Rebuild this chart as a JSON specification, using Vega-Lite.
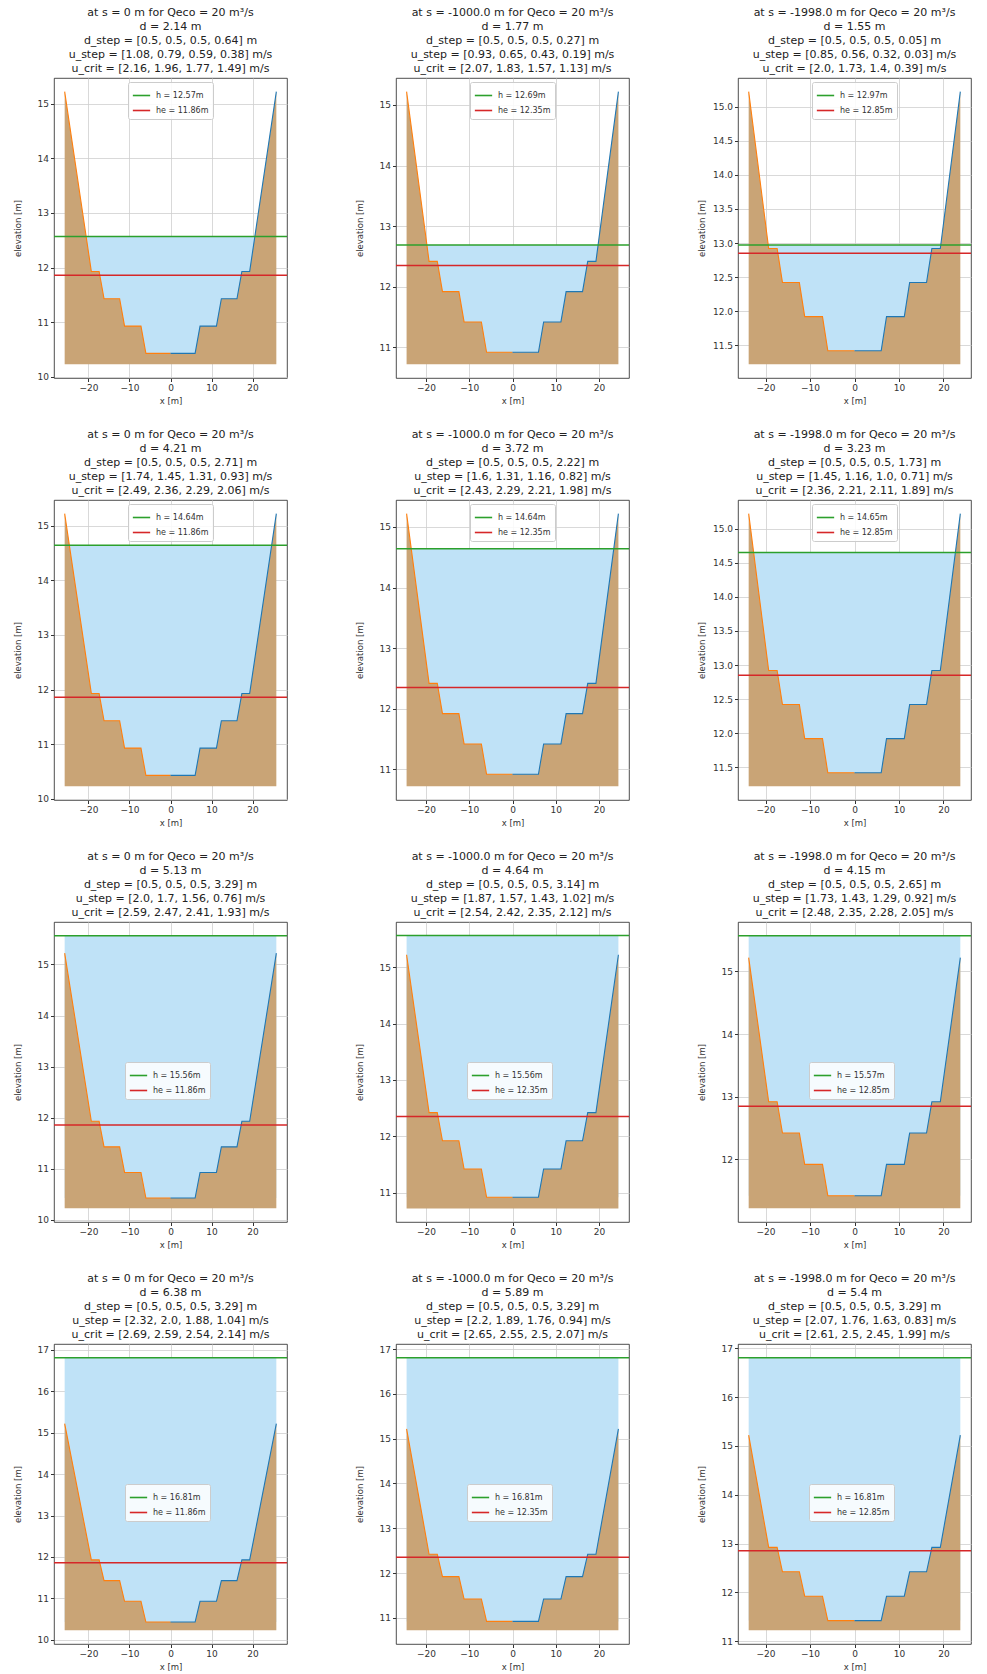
{
"$schema":"https://vega.github.io/schema/vega-lite/v6.json",
"padding":{"left":12,"top":6,"right":4,"bottom":2},
"background":"white",
"columns":3,
"spacing":{"row":22,"column":65},
"resolve":{"scale":{"x":"independent","y":"independent","color":"independent"},"legend":{"color":"independent"}},
"config":{
 "font":"DejaVu Sans",
 "view":{"stroke":"#222222","strokeWidth":0.8},
 "axis":{"grid":true,"gridColor":"#cfcfcf","gridWidth":0.8,"domain":false,"tickColor":"#333333","tickSize":3.5,"labelFontSize":9,"labelColor":"#333333","titleFontSize":8.5,"titleFontWeight":"normal","titleColor":"#333333","zindex":1,"labelFont":"DejaVu Sans","titleFont":"DejaVu Sans"},
 "axisY":{"minExtent":28,"maxExtent":28},
 "title":{"fontSize":11,"font":"DejaVu Sans","fontWeight":"normal","lineHeight":14,"offset":4,"color":"#222222","anchor":"middle"},
 "legend":{"symbolType":"stroke","symbolSize":300,"symbolStrokeWidth":1.6,"labelFontSize":8,"labelFont":"DejaVu Sans","padding":4,"fillColor":"rgba(255,255,255,0.85)","strokeColor":"#cccccc","cornerRadius":2,"rowPadding":1,"labelOffset":5,"labelColor":"#333333"}
},
"datasets":{
 "terrain":[
  {"c":1,"x":-25.8,"y":15.22,"base":10.23},{"c":1,"x":-19.3,"y":11.93,"base":10.23},{"c":1,"x":-17.4,"y":11.93,"base":10.23},{"c":1,"x":-16.2,"y":11.43,"base":10.23},{"c":1,"x":-12.4,"y":11.43,"base":10.23},{"c":1,"x":-11.2,"y":10.93,"base":10.23},{"c":1,"x":-7.2,"y":10.93,"base":10.23},{"c":1,"x":-6,"y":10.43,"base":10.23},{"c":1,"x":0,"y":10.43,"base":10.23},{"c":1,"x":6,"y":10.43,"base":10.23},{"c":1,"x":7.2,"y":10.93,"base":10.23},{"c":1,"x":11.2,"y":10.93,"base":10.23},{"c":1,"x":12.4,"y":11.43,"base":10.23},{"c":1,"x":16.2,"y":11.43,"base":10.23},{"c":1,"x":17.4,"y":11.93,"base":10.23},{"c":1,"x":19.3,"y":11.93,"base":10.23},{"c":1,"x":25.8,"y":15.22,"base":10.23},
  {"c":2,"x":-24.5,"y":15.22,"base":10.72},{"c":2,"x":-19.3,"y":12.42,"base":10.72},{"c":2,"x":-17.4,"y":12.42,"base":10.72},{"c":2,"x":-16.2,"y":11.92,"base":10.72},{"c":2,"x":-12.4,"y":11.92,"base":10.72},{"c":2,"x":-11.2,"y":11.42,"base":10.72},{"c":2,"x":-7.2,"y":11.42,"base":10.72},{"c":2,"x":-6,"y":10.92,"base":10.72},{"c":2,"x":0,"y":10.92,"base":10.72},{"c":2,"x":6,"y":10.92,"base":10.72},{"c":2,"x":7.2,"y":11.42,"base":10.72},{"c":2,"x":11.2,"y":11.42,"base":10.72},{"c":2,"x":12.4,"y":11.92,"base":10.72},{"c":2,"x":16.2,"y":11.92,"base":10.72},{"c":2,"x":17.4,"y":12.42,"base":10.72},{"c":2,"x":19.3,"y":12.42,"base":10.72},{"c":2,"x":24.5,"y":15.22,"base":10.72},
  {"c":3,"x":-23.8,"y":15.22,"base":11.22},{"c":3,"x":-19.3,"y":12.92,"base":11.22},{"c":3,"x":-17.4,"y":12.92,"base":11.22},{"c":3,"x":-16.2,"y":12.42,"base":11.22},{"c":3,"x":-12.4,"y":12.42,"base":11.22},{"c":3,"x":-11.2,"y":11.92,"base":11.22},{"c":3,"x":-7.2,"y":11.92,"base":11.22},{"c":3,"x":-6,"y":11.42,"base":11.22},{"c":3,"x":0,"y":11.42,"base":11.22},{"c":3,"x":6,"y":11.42,"base":11.22},{"c":3,"x":7.2,"y":11.92,"base":11.22},{"c":3,"x":11.2,"y":11.92,"base":11.22},{"c":3,"x":12.4,"y":12.42,"base":11.22},{"c":3,"x":16.2,"y":12.42,"base":11.22},{"c":3,"x":17.4,"y":12.92,"base":11.22},{"c":3,"x":19.3,"y":12.92,"base":11.22},{"c":3,"x":23.8,"y":15.22,"base":11.22}
 ],
 "water":[
  {"p":1,"x":-20.56,"x2":20.56,"y":10.43,"y2":12.57},
  {"p":2,"x":-19.8,"x2":19.8,"y":10.92,"y2":12.69},
  {"p":3,"x":-19.4,"x2":19.4,"y":11.42,"y2":12.97},
  {"p":4,"x":-24.65,"x2":24.65,"y":10.43,"y2":14.64},
  {"p":5,"x":-23.42,"x2":23.42,"y":10.92,"y2":14.64},
  {"p":6,"x":-22.68,"x2":22.68,"y":11.42,"y2":14.65},
  {"p":7,"x":-25.8,"x2":25.8,"y":10.43,"y2":15.56},
  {"p":8,"x":-24.5,"x2":24.5,"y":10.92,"y2":15.56},
  {"p":9,"x":-23.8,"x2":23.8,"y":11.42,"y2":15.57},
  {"p":10,"x":-25.8,"x2":25.8,"y":10.43,"y2":16.81},
  {"p":11,"x":-24.5,"x2":24.5,"y":10.92,"y2":16.81},
  {"p":12,"x":-23.8,"x2":23.8,"y":11.42,"y2":16.81}
 ],
 "lines":[
  {"p":1,"lab":"h = 12.57m","y":12.57},{"p":1,"lab":"he = 11.86m","y":11.86},
  {"p":2,"lab":"h = 12.69m","y":12.69},{"p":2,"lab":"he = 12.35m","y":12.35},
  {"p":3,"lab":"h = 12.97m","y":12.97},{"p":3,"lab":"he = 12.85m","y":12.85},
  {"p":4,"lab":"h = 14.64m","y":14.64},{"p":4,"lab":"he = 11.86m","y":11.86},
  {"p":5,"lab":"h = 14.64m","y":14.64},{"p":5,"lab":"he = 12.35m","y":12.35},
  {"p":6,"lab":"h = 14.65m","y":14.65},{"p":6,"lab":"he = 12.85m","y":12.85},
  {"p":7,"lab":"h = 15.56m","y":15.56},{"p":7,"lab":"he = 11.86m","y":11.86},
  {"p":8,"lab":"h = 15.56m","y":15.56},{"p":8,"lab":"he = 12.35m","y":12.35},
  {"p":9,"lab":"h = 15.57m","y":15.57},{"p":9,"lab":"he = 12.85m","y":12.85},
  {"p":10,"lab":"h = 16.81m","y":16.81},{"p":10,"lab":"he = 11.86m","y":11.86},
  {"p":11,"lab":"h = 16.81m","y":16.81},{"p":11,"lab":"he = 12.35m","y":12.35},
  {"p":12,"lab":"h = 16.81m","y":16.81},{"p":12,"lab":"he = 12.85m","y":12.85}
 ]
},
"concat":[
{"width":233,"height":300,"title":{"text":["at s = 0 m for Qeco = 20 m³/s","d = 2.14 m","d_step = [0.5, 0.5, 0.5, 0.64] m","u_step = [1.08, 0.79, 0.59, 0.38] m/s","u_crit = [2.16, 1.96, 1.77, 1.49] m/s"]},
 "layer":[
  {"data":{"name":"water"},"transform":[{"filter":"datum.p==1"}],"mark":{"type":"rect","color":"#bfe2f7"},"encoding":{"x":{"field":"x","type":"quantitative","scale":{"domain":[-28.4,28.4],"nice":false,"zero":false},"axis":{"title":"x [m]","values":[-20,-10,0,10,20],"format":"d"}},"x2":{"field":"x2"},"y":{"field":"y","type":"quantitative","scale":{"domain":[9.98,15.47],"nice":false,"zero":false},"axis":{"title":"elevation [m]","values":[10,11,12,13,14,15],"format":"d"}},"y2":{"field":"y2"}}},
  {"data":{"name":"terrain"},"transform":[{"filter":"datum.c==1"}],"mark":{"type":"area","color":"#c9a476"},"encoding":{"x":{"field":"x","type":"quantitative"},"y":{"field":"y","type":"quantitative"},"y2":{"field":"base"}}},
  {"data":{"name":"terrain"},"transform":[{"filter":"datum.c==1 && datum.x<=0"}],"mark":{"type":"line","color":"#ff7f0e","strokeWidth":1.1},"encoding":{"x":{"field":"x","type":"quantitative"},"y":{"field":"y","type":"quantitative"}}},
  {"data":{"name":"terrain"},"transform":[{"filter":"datum.c==1 && datum.x>=0"}],"mark":{"type":"line","color":"#1f77b4","strokeWidth":1.1},"encoding":{"x":{"field":"x","type":"quantitative"},"y":{"field":"y","type":"quantitative"}}},
  {"data":{"name":"lines"},"transform":[{"filter":"datum.p==1"}],"mark":{"type":"rule","strokeWidth":1.5},"encoding":{"y":{"field":"y","type":"quantitative"},"color":{"field":"lab","type":"nominal","scale":{"domain":["h = 12.57m","he = 11.86m"],"range":["#2ca02c","#d62728"]},"legend":{"title":null,"orient":"none","legendX":74,"legendY":4}}}}
 ]},
{"width":233,"height":300,"title":{"text":["at s = -1000.0 m for Qeco = 20 m³/s","d = 1.77 m","d_step = [0.5, 0.5, 0.5, 0.27] m","u_step = [0.93, 0.65, 0.43, 0.19] m/s","u_crit = [2.07, 1.83, 1.57, 1.13] m/s"]},
 "layer":[
  {"data":{"name":"water"},"transform":[{"filter":"datum.p==2"}],"mark":{"type":"rect","color":"#bfe2f7"},"encoding":{"x":{"field":"x","type":"quantitative","scale":{"domain":[-26.95,26.95],"nice":false,"zero":false},"axis":{"title":"x [m]","values":[-20,-10,0,10,20],"format":"d"}},"x2":{"field":"x2"},"y":{"field":"y","type":"quantitative","scale":{"domain":[10.495,15.445],"nice":false,"zero":false},"axis":{"title":"elevation [m]","values":[11,12,13,14,15],"format":"d"}},"y2":{"field":"y2"}}},
  {"data":{"name":"terrain"},"transform":[{"filter":"datum.c==2"}],"mark":{"type":"area","color":"#c9a476"},"encoding":{"x":{"field":"x","type":"quantitative"},"y":{"field":"y","type":"quantitative"},"y2":{"field":"base"}}},
  {"data":{"name":"terrain"},"transform":[{"filter":"datum.c==2 && datum.x<=0"}],"mark":{"type":"line","color":"#ff7f0e","strokeWidth":1.1},"encoding":{"x":{"field":"x","type":"quantitative"},"y":{"field":"y","type":"quantitative"}}},
  {"data":{"name":"terrain"},"transform":[{"filter":"datum.c==2 && datum.x>=0"}],"mark":{"type":"line","color":"#1f77b4","strokeWidth":1.1},"encoding":{"x":{"field":"x","type":"quantitative"},"y":{"field":"y","type":"quantitative"}}},
  {"data":{"name":"lines"},"transform":[{"filter":"datum.p==2"}],"mark":{"type":"rule","strokeWidth":1.5},"encoding":{"y":{"field":"y","type":"quantitative"},"color":{"field":"lab","type":"nominal","scale":{"domain":["h = 12.69m","he = 12.35m"],"range":["#2ca02c","#d62728"]},"legend":{"title":null,"orient":"none","legendX":74,"legendY":4}}}}
 ]},
{"width":233,"height":300,"title":{"text":["at s = -1998.0 m for Qeco = 20 m³/s","d = 1.55 m","d_step = [0.5, 0.5, 0.5, 0.05] m","u_step = [0.85, 0.56, 0.32, 0.03] m/s","u_crit = [2.0, 1.73, 1.4, 0.39] m/s"]},
 "layer":[
  {"data":{"name":"water"},"transform":[{"filter":"datum.p==3"}],"mark":{"type":"rect","color":"#bfe2f7"},"encoding":{"x":{"field":"x","type":"quantitative","scale":{"domain":[-26.2,26.2],"nice":false,"zero":false},"axis":{"title":"x [m]","values":[-20,-10,0,10,20],"format":"d"}},"x2":{"field":"x2"},"y":{"field":"y","type":"quantitative","scale":{"domain":[11.02,15.42],"nice":false,"zero":false},"axis":{"title":"elevation [m]","values":[11.5,12,12.5,13,13.5,14,14.5,15],"format":".1f"}},"y2":{"field":"y2"}}},
  {"data":{"name":"terrain"},"transform":[{"filter":"datum.c==3"}],"mark":{"type":"area","color":"#c9a476"},"encoding":{"x":{"field":"x","type":"quantitative"},"y":{"field":"y","type":"quantitative"},"y2":{"field":"base"}}},
  {"data":{"name":"terrain"},"transform":[{"filter":"datum.c==3 && datum.x<=0"}],"mark":{"type":"line","color":"#ff7f0e","strokeWidth":1.1},"encoding":{"x":{"field":"x","type":"quantitative"},"y":{"field":"y","type":"quantitative"}}},
  {"data":{"name":"terrain"},"transform":[{"filter":"datum.c==3 && datum.x>=0"}],"mark":{"type":"line","color":"#1f77b4","strokeWidth":1.1},"encoding":{"x":{"field":"x","type":"quantitative"},"y":{"field":"y","type":"quantitative"}}},
  {"data":{"name":"lines"},"transform":[{"filter":"datum.p==3"}],"mark":{"type":"rule","strokeWidth":1.5},"encoding":{"y":{"field":"y","type":"quantitative"},"color":{"field":"lab","type":"nominal","scale":{"domain":["h = 12.97m","he = 12.85m"],"range":["#2ca02c","#d62728"]},"legend":{"title":null,"orient":"none","legendX":74,"legendY":4}}}}
 ]},
{"width":233,"height":300,"title":{"text":["at s = 0 m for Qeco = 20 m³/s","d = 4.21 m","d_step = [0.5, 0.5, 0.5, 2.71] m","u_step = [1.74, 1.45, 1.31, 0.93] m/s","u_crit = [2.49, 2.36, 2.29, 2.06] m/s"]},
 "layer":[
  {"data":{"name":"water"},"transform":[{"filter":"datum.p==4"}],"mark":{"type":"rect","color":"#bfe2f7"},"encoding":{"x":{"field":"x","type":"quantitative","scale":{"domain":[-28.4,28.4],"nice":false,"zero":false},"axis":{"title":"x [m]","values":[-20,-10,0,10,20],"format":"d"}},"x2":{"field":"x2"},"y":{"field":"y","type":"quantitative","scale":{"domain":[9.98,15.47],"nice":false,"zero":false},"axis":{"title":"elevation [m]","values":[10,11,12,13,14,15],"format":"d"}},"y2":{"field":"y2"}}},
  {"data":{"name":"terrain"},"transform":[{"filter":"datum.c==1"}],"mark":{"type":"area","color":"#c9a476"},"encoding":{"x":{"field":"x","type":"quantitative"},"y":{"field":"y","type":"quantitative"},"y2":{"field":"base"}}},
  {"data":{"name":"terrain"},"transform":[{"filter":"datum.c==1 && datum.x<=0"}],"mark":{"type":"line","color":"#ff7f0e","strokeWidth":1.1},"encoding":{"x":{"field":"x","type":"quantitative"},"y":{"field":"y","type":"quantitative"}}},
  {"data":{"name":"terrain"},"transform":[{"filter":"datum.c==1 && datum.x>=0"}],"mark":{"type":"line","color":"#1f77b4","strokeWidth":1.1},"encoding":{"x":{"field":"x","type":"quantitative"},"y":{"field":"y","type":"quantitative"}}},
  {"data":{"name":"lines"},"transform":[{"filter":"datum.p==4"}],"mark":{"type":"rule","strokeWidth":1.5},"encoding":{"y":{"field":"y","type":"quantitative"},"color":{"field":"lab","type":"nominal","scale":{"domain":["h = 14.64m","he = 11.86m"],"range":["#2ca02c","#d62728"]},"legend":{"title":null,"orient":"none","legendX":74,"legendY":4}}}}
 ]},
{"width":233,"height":300,"title":{"text":["at s = -1000.0 m for Qeco = 20 m³/s","d = 3.72 m","d_step = [0.5, 0.5, 0.5, 2.22] m","u_step = [1.6, 1.31, 1.16, 0.82] m/s","u_crit = [2.43, 2.29, 2.21, 1.98] m/s"]},
 "layer":[
  {"data":{"name":"water"},"transform":[{"filter":"datum.p==5"}],"mark":{"type":"rect","color":"#bfe2f7"},"encoding":{"x":{"field":"x","type":"quantitative","scale":{"domain":[-26.95,26.95],"nice":false,"zero":false},"axis":{"title":"x [m]","values":[-20,-10,0,10,20],"format":"d"}},"x2":{"field":"x2"},"y":{"field":"y","type":"quantitative","scale":{"domain":[10.495,15.445],"nice":false,"zero":false},"axis":{"title":"elevation [m]","values":[11,12,13,14,15],"format":"d"}},"y2":{"field":"y2"}}},
  {"data":{"name":"terrain"},"transform":[{"filter":"datum.c==2"}],"mark":{"type":"area","color":"#c9a476"},"encoding":{"x":{"field":"x","type":"quantitative"},"y":{"field":"y","type":"quantitative"},"y2":{"field":"base"}}},
  {"data":{"name":"terrain"},"transform":[{"filter":"datum.c==2 && datum.x<=0"}],"mark":{"type":"line","color":"#ff7f0e","strokeWidth":1.1},"encoding":{"x":{"field":"x","type":"quantitative"},"y":{"field":"y","type":"quantitative"}}},
  {"data":{"name":"terrain"},"transform":[{"filter":"datum.c==2 && datum.x>=0"}],"mark":{"type":"line","color":"#1f77b4","strokeWidth":1.1},"encoding":{"x":{"field":"x","type":"quantitative"},"y":{"field":"y","type":"quantitative"}}},
  {"data":{"name":"lines"},"transform":[{"filter":"datum.p==5"}],"mark":{"type":"rule","strokeWidth":1.5},"encoding":{"y":{"field":"y","type":"quantitative"},"color":{"field":"lab","type":"nominal","scale":{"domain":["h = 14.64m","he = 12.35m"],"range":["#2ca02c","#d62728"]},"legend":{"title":null,"orient":"none","legendX":74,"legendY":4}}}}
 ]},
{"width":233,"height":300,"title":{"text":["at s = -1998.0 m for Qeco = 20 m³/s","d = 3.23 m","d_step = [0.5, 0.5, 0.5, 1.73] m","u_step = [1.45, 1.16, 1.0, 0.71] m/s","u_crit = [2.36, 2.21, 2.11, 1.89] m/s"]},
 "layer":[
  {"data":{"name":"water"},"transform":[{"filter":"datum.p==6"}],"mark":{"type":"rect","color":"#bfe2f7"},"encoding":{"x":{"field":"x","type":"quantitative","scale":{"domain":[-26.2,26.2],"nice":false,"zero":false},"axis":{"title":"x [m]","values":[-20,-10,0,10,20],"format":"d"}},"x2":{"field":"x2"},"y":{"field":"y","type":"quantitative","scale":{"domain":[11.02,15.42],"nice":false,"zero":false},"axis":{"title":"elevation [m]","values":[11.5,12,12.5,13,13.5,14,14.5,15],"format":".1f"}},"y2":{"field":"y2"}}},
  {"data":{"name":"terrain"},"transform":[{"filter":"datum.c==3"}],"mark":{"type":"area","color":"#c9a476"},"encoding":{"x":{"field":"x","type":"quantitative"},"y":{"field":"y","type":"quantitative"},"y2":{"field":"base"}}},
  {"data":{"name":"terrain"},"transform":[{"filter":"datum.c==3 && datum.x<=0"}],"mark":{"type":"line","color":"#ff7f0e","strokeWidth":1.1},"encoding":{"x":{"field":"x","type":"quantitative"},"y":{"field":"y","type":"quantitative"}}},
  {"data":{"name":"terrain"},"transform":[{"filter":"datum.c==3 && datum.x>=0"}],"mark":{"type":"line","color":"#1f77b4","strokeWidth":1.1},"encoding":{"x":{"field":"x","type":"quantitative"},"y":{"field":"y","type":"quantitative"}}},
  {"data":{"name":"lines"},"transform":[{"filter":"datum.p==6"}],"mark":{"type":"rule","strokeWidth":1.5},"encoding":{"y":{"field":"y","type":"quantitative"},"color":{"field":"lab","type":"nominal","scale":{"domain":["h = 14.65m","he = 12.85m"],"range":["#2ca02c","#d62728"]},"legend":{"title":null,"orient":"none","legendX":74,"legendY":4}}}}
 ]},
{"width":233,"height":300,"title":{"text":["at s = 0 m for Qeco = 20 m³/s","d = 5.13 m","d_step = [0.5, 0.5, 0.5, 3.29] m","u_step = [2.0, 1.7, 1.56, 0.76] m/s","u_crit = [2.59, 2.47, 2.41, 1.93] m/s"]},
 "layer":[
  {"data":{"name":"water"},"transform":[{"filter":"datum.p==7"}],"mark":{"type":"rect","color":"#bfe2f7"},"encoding":{"x":{"field":"x","type":"quantitative","scale":{"domain":[-28.4,28.4],"nice":false,"zero":false},"axis":{"title":"x [m]","values":[-20,-10,0,10,20],"format":"d"}},"x2":{"field":"x2"},"y":{"field":"y","type":"quantitative","scale":{"domain":[9.96,15.83],"nice":false,"zero":false},"axis":{"title":"elevation [m]","values":[10,11,12,13,14,15],"format":"d"}},"y2":{"field":"y2"}}},
  {"data":{"name":"terrain"},"transform":[{"filter":"datum.c==1"}],"mark":{"type":"area","color":"#c9a476"},"encoding":{"x":{"field":"x","type":"quantitative"},"y":{"field":"y","type":"quantitative"},"y2":{"field":"base"}}},
  {"data":{"name":"terrain"},"transform":[{"filter":"datum.c==1 && datum.x<=0"}],"mark":{"type":"line","color":"#ff7f0e","strokeWidth":1.1},"encoding":{"x":{"field":"x","type":"quantitative"},"y":{"field":"y","type":"quantitative"}}},
  {"data":{"name":"terrain"},"transform":[{"filter":"datum.c==1 && datum.x>=0"}],"mark":{"type":"line","color":"#1f77b4","strokeWidth":1.1},"encoding":{"x":{"field":"x","type":"quantitative"},"y":{"field":"y","type":"quantitative"}}},
  {"data":{"name":"lines"},"transform":[{"filter":"datum.p==7"}],"mark":{"type":"rule","strokeWidth":1.5},"encoding":{"y":{"field":"y","type":"quantitative"},"color":{"field":"lab","type":"nominal","scale":{"domain":["h = 15.56m","he = 11.86m"],"range":["#2ca02c","#d62728"]},"legend":{"title":null,"orient":"none","legendX":71,"legendY":140}}}}
 ]},
{"width":233,"height":300,"title":{"text":["at s = -1000.0 m for Qeco = 20 m³/s","d = 4.64 m","d_step = [0.5, 0.5, 0.5, 3.14] m","u_step = [1.87, 1.57, 1.43, 1.02] m/s","u_crit = [2.54, 2.42, 2.35, 2.12] m/s"]},
 "layer":[
  {"data":{"name":"water"},"transform":[{"filter":"datum.p==8"}],"mark":{"type":"rect","color":"#bfe2f7"},"encoding":{"x":{"field":"x","type":"quantitative","scale":{"domain":[-26.95,26.95],"nice":false,"zero":false},"axis":{"title":"x [m]","values":[-20,-10,0,10,20],"format":"d"}},"x2":{"field":"x2"},"y":{"field":"y","type":"quantitative","scale":{"domain":[10.48,15.8],"nice":false,"zero":false},"axis":{"title":"elevation [m]","values":[11,12,13,14,15],"format":"d"}},"y2":{"field":"y2"}}},
  {"data":{"name":"terrain"},"transform":[{"filter":"datum.c==2"}],"mark":{"type":"area","color":"#c9a476"},"encoding":{"x":{"field":"x","type":"quantitative"},"y":{"field":"y","type":"quantitative"},"y2":{"field":"base"}}},
  {"data":{"name":"terrain"},"transform":[{"filter":"datum.c==2 && datum.x<=0"}],"mark":{"type":"line","color":"#ff7f0e","strokeWidth":1.1},"encoding":{"x":{"field":"x","type":"quantitative"},"y":{"field":"y","type":"quantitative"}}},
  {"data":{"name":"terrain"},"transform":[{"filter":"datum.c==2 && datum.x>=0"}],"mark":{"type":"line","color":"#1f77b4","strokeWidth":1.1},"encoding":{"x":{"field":"x","type":"quantitative"},"y":{"field":"y","type":"quantitative"}}},
  {"data":{"name":"lines"},"transform":[{"filter":"datum.p==8"}],"mark":{"type":"rule","strokeWidth":1.5},"encoding":{"y":{"field":"y","type":"quantitative"},"color":{"field":"lab","type":"nominal","scale":{"domain":["h = 15.56m","he = 12.35m"],"range":["#2ca02c","#d62728"]},"legend":{"title":null,"orient":"none","legendX":71,"legendY":140}}}}
 ]},
{"width":233,"height":300,"title":{"text":["at s = -1998.0 m for Qeco = 20 m³/s","d = 4.15 m","d_step = [0.5, 0.5, 0.5, 2.65] m","u_step = [1.73, 1.43, 1.29, 0.92] m/s","u_crit = [2.48, 2.35, 2.28, 2.05] m/s"]},
 "layer":[
  {"data":{"name":"water"},"transform":[{"filter":"datum.p==9"}],"mark":{"type":"rect","color":"#bfe2f7"},"encoding":{"x":{"field":"x","type":"quantitative","scale":{"domain":[-26.2,26.2],"nice":false,"zero":false},"axis":{"title":"x [m]","values":[-20,-10,0,10,20],"format":"d"}},"x2":{"field":"x2"},"y":{"field":"y","type":"quantitative","scale":{"domain":[11.0,15.79],"nice":false,"zero":false},"axis":{"title":"elevation [m]","values":[12,13,14,15],"format":"d"}},"y2":{"field":"y2"}}},
  {"data":{"name":"terrain"},"transform":[{"filter":"datum.c==3"}],"mark":{"type":"area","color":"#c9a476"},"encoding":{"x":{"field":"x","type":"quantitative"},"y":{"field":"y","type":"quantitative"},"y2":{"field":"base"}}},
  {"data":{"name":"terrain"},"transform":[{"filter":"datum.c==3 && datum.x<=0"}],"mark":{"type":"line","color":"#ff7f0e","strokeWidth":1.1},"encoding":{"x":{"field":"x","type":"quantitative"},"y":{"field":"y","type":"quantitative"}}},
  {"data":{"name":"terrain"},"transform":[{"filter":"datum.c==3 && datum.x>=0"}],"mark":{"type":"line","color":"#1f77b4","strokeWidth":1.1},"encoding":{"x":{"field":"x","type":"quantitative"},"y":{"field":"y","type":"quantitative"}}},
  {"data":{"name":"lines"},"transform":[{"filter":"datum.p==9"}],"mark":{"type":"rule","strokeWidth":1.5},"encoding":{"y":{"field":"y","type":"quantitative"},"color":{"field":"lab","type":"nominal","scale":{"domain":["h = 15.57m","he = 12.85m"],"range":["#2ca02c","#d62728"]},"legend":{"title":null,"orient":"none","legendX":71,"legendY":140}}}}
 ]},
{"width":233,"height":300,"title":{"text":["at s = 0 m for Qeco = 20 m³/s","d = 6.38 m","d_step = [0.5, 0.5, 0.5, 3.29] m","u_step = [2.32, 2.0, 1.88, 1.04] m/s","u_crit = [2.69, 2.59, 2.54, 2.14] m/s"]},
 "layer":[
  {"data":{"name":"water"},"transform":[{"filter":"datum.p==10"}],"mark":{"type":"rect","color":"#bfe2f7"},"encoding":{"x":{"field":"x","type":"quantitative","scale":{"domain":[-28.4,28.4],"nice":false,"zero":false},"axis":{"title":"x [m]","values":[-20,-10,0,10,20],"format":"d"}},"x2":{"field":"x2"},"y":{"field":"y","type":"quantitative","scale":{"domain":[9.9,17.14],"nice":false,"zero":false},"axis":{"title":"elevation [m]","values":[10,11,12,13,14,15,16,17],"format":"d"}},"y2":{"field":"y2"}}},
  {"data":{"name":"terrain"},"transform":[{"filter":"datum.c==1"}],"mark":{"type":"area","color":"#c9a476"},"encoding":{"x":{"field":"x","type":"quantitative"},"y":{"field":"y","type":"quantitative"},"y2":{"field":"base"}}},
  {"data":{"name":"terrain"},"transform":[{"filter":"datum.c==1 && datum.x<=0"}],"mark":{"type":"line","color":"#ff7f0e","strokeWidth":1.1},"encoding":{"x":{"field":"x","type":"quantitative"},"y":{"field":"y","type":"quantitative"}}},
  {"data":{"name":"terrain"},"transform":[{"filter":"datum.c==1 && datum.x>=0"}],"mark":{"type":"line","color":"#1f77b4","strokeWidth":1.1},"encoding":{"x":{"field":"x","type":"quantitative"},"y":{"field":"y","type":"quantitative"}}},
  {"data":{"name":"lines"},"transform":[{"filter":"datum.p==10"}],"mark":{"type":"rule","strokeWidth":1.5},"encoding":{"y":{"field":"y","type":"quantitative"},"color":{"field":"lab","type":"nominal","scale":{"domain":["h = 16.81m","he = 11.86m"],"range":["#2ca02c","#d62728"]},"legend":{"title":null,"orient":"none","legendX":71,"legendY":140}}}}
 ]},
{"width":233,"height":300,"title":{"text":["at s = -1000.0 m for Qeco = 20 m³/s","d = 5.89 m","d_step = [0.5, 0.5, 0.5, 3.29] m","u_step = [2.2, 1.89, 1.76, 0.94] m/s","u_crit = [2.65, 2.55, 2.5, 2.07] m/s"]},
 "layer":[
  {"data":{"name":"water"},"transform":[{"filter":"datum.p==11"}],"mark":{"type":"rect","color":"#bfe2f7"},"encoding":{"x":{"field":"x","type":"quantitative","scale":{"domain":[-26.95,26.95],"nice":false,"zero":false},"axis":{"title":"x [m]","values":[-20,-10,0,10,20],"format":"d"}},"x2":{"field":"x2"},"y":{"field":"y","type":"quantitative","scale":{"domain":[10.415,17.115],"nice":false,"zero":false},"axis":{"title":"elevation [m]","values":[11,12,13,14,15,16,17],"format":"d"}},"y2":{"field":"y2"}}},
  {"data":{"name":"terrain"},"transform":[{"filter":"datum.c==2"}],"mark":{"type":"area","color":"#c9a476"},"encoding":{"x":{"field":"x","type":"quantitative"},"y":{"field":"y","type":"quantitative"},"y2":{"field":"base"}}},
  {"data":{"name":"terrain"},"transform":[{"filter":"datum.c==2 && datum.x<=0"}],"mark":{"type":"line","color":"#ff7f0e","strokeWidth":1.1},"encoding":{"x":{"field":"x","type":"quantitative"},"y":{"field":"y","type":"quantitative"}}},
  {"data":{"name":"terrain"},"transform":[{"filter":"datum.c==2 && datum.x>=0"}],"mark":{"type":"line","color":"#1f77b4","strokeWidth":1.1},"encoding":{"x":{"field":"x","type":"quantitative"},"y":{"field":"y","type":"quantitative"}}},
  {"data":{"name":"lines"},"transform":[{"filter":"datum.p==11"}],"mark":{"type":"rule","strokeWidth":1.5},"encoding":{"y":{"field":"y","type":"quantitative"},"color":{"field":"lab","type":"nominal","scale":{"domain":["h = 16.81m","he = 12.35m"],"range":["#2ca02c","#d62728"]},"legend":{"title":null,"orient":"none","legendX":71,"legendY":140}}}}
 ]},
{"width":233,"height":300,"title":{"text":["at s = -1998.0 m for Qeco = 20 m³/s","d = 5.4 m","d_step = [0.5, 0.5, 0.5, 3.29] m","u_step = [2.07, 1.76, 1.63, 0.83] m/s","u_crit = [2.61, 2.5, 2.45, 1.99] m/s"]},
 "layer":[
  {"data":{"name":"water"},"transform":[{"filter":"datum.p==12"}],"mark":{"type":"rect","color":"#bfe2f7"},"encoding":{"x":{"field":"x","type":"quantitative","scale":{"domain":[-26.2,26.2],"nice":false,"zero":false},"axis":{"title":"x [m]","values":[-20,-10,0,10,20],"format":"d"}},"x2":{"field":"x2"},"y":{"field":"y","type":"quantitative","scale":{"domain":[10.94,17.09],"nice":false,"zero":false},"axis":{"title":"elevation [m]","values":[11,12,13,14,15,16,17],"format":"d"}},"y2":{"field":"y2"}}},
  {"data":{"name":"terrain"},"transform":[{"filter":"datum.c==3"}],"mark":{"type":"area","color":"#c9a476"},"encoding":{"x":{"field":"x","type":"quantitative"},"y":{"field":"y","type":"quantitative"},"y2":{"field":"base"}}},
  {"data":{"name":"terrain"},"transform":[{"filter":"datum.c==3 && datum.x<=0"}],"mark":{"type":"line","color":"#ff7f0e","strokeWidth":1.1},"encoding":{"x":{"field":"x","type":"quantitative"},"y":{"field":"y","type":"quantitative"}}},
  {"data":{"name":"terrain"},"transform":[{"filter":"datum.c==3 && datum.x>=0"}],"mark":{"type":"line","color":"#1f77b4","strokeWidth":1.1},"encoding":{"x":{"field":"x","type":"quantitative"},"y":{"field":"y","type":"quantitative"}}},
  {"data":{"name":"lines"},"transform":[{"filter":"datum.p==12"}],"mark":{"type":"rule","strokeWidth":1.5},"encoding":{"y":{"field":"y","type":"quantitative"},"color":{"field":"lab","type":"nominal","scale":{"domain":["h = 16.81m","he = 12.85m"],"range":["#2ca02c","#d62728"]},"legend":{"title":null,"orient":"none","legendX":71,"legendY":140}}}}
 ]}
]
}
